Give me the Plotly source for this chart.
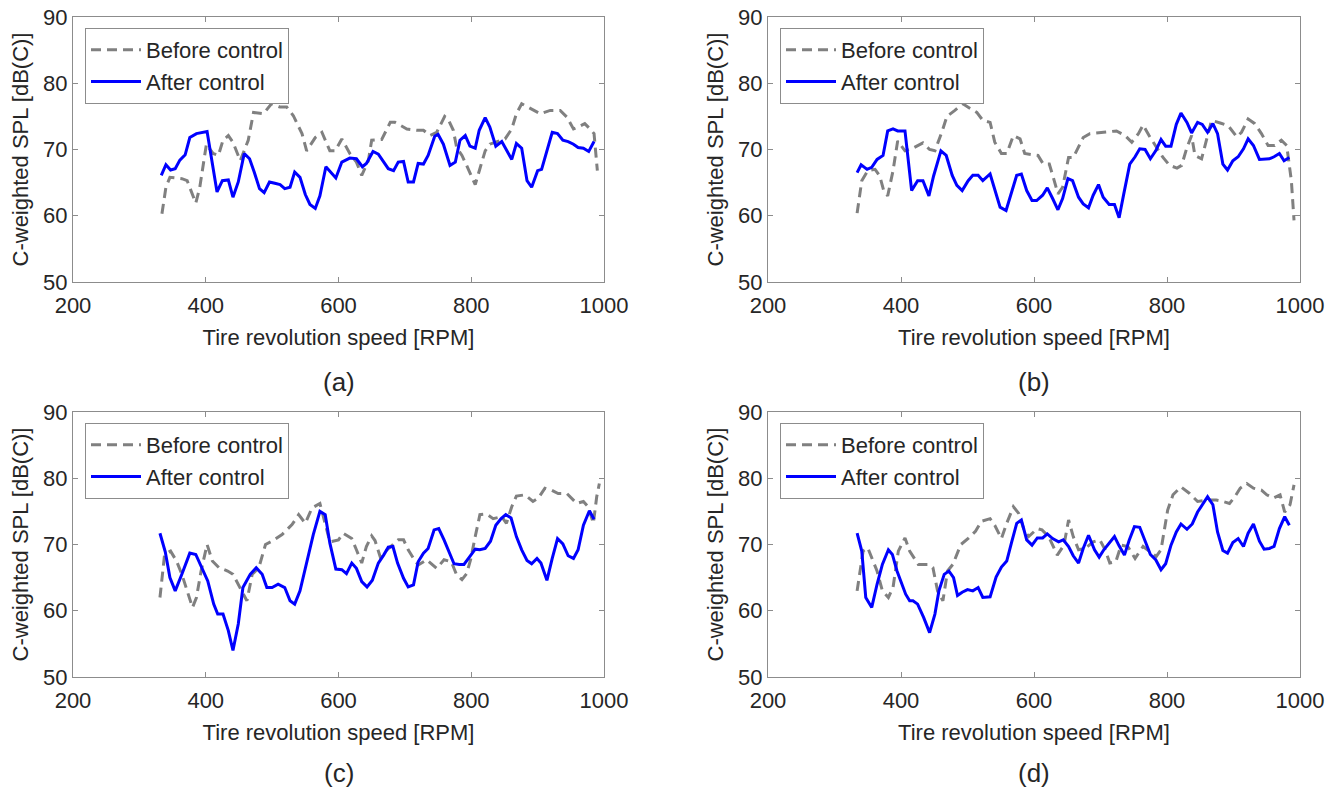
import plotly.graph_objects as go

# panel (a)
rpm_a_before = [334, 340, 346, 355, 364, 372, 379, 385, 391, 401, 411, 419, 426, 434, 441, 452, 464, 472, 487, 499,
                512, 522, 532, 545, 552, 565, 575, 587, 595, 605, 617, 627, 635, 645, 650, 665, 678, 685, 703, 718,
                728, 738, 748, 760, 765, 773, 778, 786, 793, 806, 813, 821, 828, 843, 851, 861, 868, 876, 891, 904,
                919, 934, 944, 954, 961, 971, 979, 985, 990]
spl_a_before = [60.3, 64.3, 65.8, 65.7, 65.6, 65.3, 63.6, 61.9, 64.3, 70.8, 69.4, 69.1, 71.4, 72.1, 71.1, 68.3, 71.4, 75.6, 75.4, 76.9,
                76.4, 76.4, 75.1, 72.4, 69.8, 71.8, 72.6, 69.8, 69.8, 71.6, 69.4, 68.1, 66.1, 68.3, 71.4, 71.5, 74.1, 74.1, 73.1, 72.9,
                72.9, 72.1, 72.6, 75.0, 74.6, 72.9, 70.3, 69.1, 67.6, 64.7, 67.1, 69.8, 70.8, 71.4, 71.6, 73.1, 75.4, 76.9, 76.1, 75.4,
                75.9, 75.9, 74.9, 73.1, 73.4, 73.9, 73.1, 72.4, 66.8]
rpm_a_after = [333, 340, 347, 354, 361, 369, 376, 386, 402, 417, 425, 434, 441, 449, 458, 466, 473, 481, 488, 496,
               504, 512, 519, 527, 534, 542, 550, 557, 565, 572, 581, 596, 605, 617, 627, 636, 642, 652, 660, 675,
               683, 690, 698, 705, 713, 720, 728, 735, 745, 750, 758, 768, 776, 783, 791, 798, 806, 812, 821, 828,
               837, 846, 861, 868, 876, 884, 891, 900, 906, 914, 922, 930, 938, 946, 954, 961, 969, 977, 985]
spl_a_after = [66.1, 67.7, 66.9, 67.1, 68.4, 69.2, 71.8, 72.4, 72.7, 63.6, 65.3, 65.4, 62.8, 65.1, 69.4, 68.6, 66.6, 64.1, 63.5, 65.1,
               64.9, 64.7, 64.1, 64.3, 66.6, 65.8, 63.2, 61.7, 61.1, 63.0, 67.4, 65.7, 68.1, 68.7, 68.6, 67.4, 67.9, 69.7, 69.3, 67.1,
               66.8, 68.1, 68.2, 65.1, 65.1, 67.9, 67.8, 69.1, 72.0, 72.3, 70.8, 67.6, 68.1, 71.4, 72.1, 70.5, 70.2, 72.9, 74.8, 73.4,
               70.5, 71.2, 68.5, 70.9, 70.2, 65.3, 64.3, 66.8, 67.0, 69.8, 72.6, 72.4, 71.4, 71.2, 70.8, 70.3, 70.2, 69.7, 71.2]

# panel (b)
rpm_b_before = [334, 341, 350, 361, 368, 374, 380, 388, 395, 406, 416, 425, 433, 443, 451, 462, 469, 481, 493, 504,
                514, 523, 534, 541, 551, 559, 569, 579, 586, 599, 606, 614, 623, 629, 636, 643, 652, 659, 674, 684,
                707, 724, 737, 747, 757, 764, 773, 782, 794, 804, 815, 822, 830, 837, 842, 852, 860, 867, 880, 892,
                905, 912, 922, 932, 942, 952, 962, 972, 980, 987, 991]
spl_b_before = [60.4, 65.3, 66.8, 67.0, 66.0, 63.8, 63.0, 66.8, 71.3, 69.8, 70.1, 70.6, 71.0, 70.0, 69.8, 72.8, 75.0, 75.9, 76.9, 76.2,
                75.6, 74.4, 74.1, 71.1, 69.4, 69.4, 72.1, 71.6, 69.4, 69.2, 69.1, 67.8, 67.8, 65.8, 63.3, 64.3, 68.8, 68.8, 71.8, 72.4,
                72.6, 72.8, 72.1, 71.1, 72.4, 73.7, 72.1, 70.6, 68.8, 67.6, 67.2, 67.6, 70.3, 72.1, 69.1, 68.6, 71.6, 74.4, 74.0, 73.6,
                71.9, 72.6, 74.6, 73.9, 72.4, 70.6, 70.6, 71.4, 70.6, 65.3, 59.3]
rpm_b_after = [334, 340, 349, 356, 364, 373, 380, 388, 395, 406, 416, 425, 433, 442, 449, 460, 468, 477, 484, 492,
               501, 508, 516, 523, 534, 541, 549, 558, 566, 574, 581, 589, 597, 604, 613, 620, 628, 636, 643, 651,
               658, 667, 674, 682, 689, 697, 704, 713, 721, 728, 735, 744, 752, 759, 767, 775, 783, 791, 798, 806,
               814, 821, 830, 837, 846, 853, 861, 869, 876, 884, 891, 899, 907, 915, 922, 930, 939, 946, 954, 961,
               969, 976, 984]
spl_b_after = [66.5, 67.7, 67.0, 67.3, 68.5, 69.1, 72.8, 73.1, 72.8, 72.8, 63.8, 65.3, 65.3, 63.0, 66.0, 69.8, 69.1, 66.1, 64.6, 63.8,
               65.3, 66.1, 66.1, 65.3, 66.3, 63.8, 61.3, 60.8, 63.6, 66.1, 66.3, 63.8, 62.3, 62.3, 63.1, 64.2, 62.6, 60.9, 62.6, 65.6,
               65.3, 62.8, 61.8, 61.2, 63.1, 64.7, 62.8, 61.7, 61.7, 59.7, 63.3, 67.8, 68.9, 70.1, 70.0, 68.6, 69.8, 71.5, 70.5, 70.5,
               73.8, 75.5, 74.1, 72.5, 74.1, 73.8, 72.6, 73.9, 72.4, 67.8, 66.9, 68.3, 68.9, 70.1, 71.6, 70.6, 68.5, 68.5, 68.6, 68.9,
               69.4, 68.3, 68.8]

# panel (c)
rpm_c_before = [331, 338, 347, 356, 364, 372, 380, 386, 393, 402, 410, 420, 433, 441, 452, 462, 470, 480, 490, 500,
                515, 530, 540, 550, 560, 572, 587, 600, 607, 620, 627, 635, 642, 650, 655, 663, 673, 690, 698, 705,
                713, 720, 733, 748, 759, 770, 778, 786, 793, 799, 806, 813, 823, 833, 846, 853, 861, 868, 881, 893,
                901, 911, 921, 931, 944, 951, 959, 969, 976, 984, 989, 993]
spl_c_before = [62.0, 68.5, 69.0, 67.5, 65.5, 63.0, 60.5, 62.0, 66.0, 70.0, 67.5, 66.5, 66.0, 65.5, 63.5, 61.5, 65.5, 66.5, 70.0, 70.5,
                71.5, 73.0, 74.5, 73.2, 75.5, 76.2, 70.4, 70.7, 71.7, 70.9, 69.2, 67.2, 69.7, 71.3, 70.6, 68.1, 69.2, 70.7, 70.7, 69.2,
                67.9, 66.9, 67.7, 66.4, 67.7, 67.4, 65.4, 64.7, 65.6, 67.7, 71.2, 74.5, 74.6, 73.9, 74.2, 73.2, 75.7, 77.3, 77.5, 76.5,
                77.0, 78.5, 78.2, 77.7, 77.7, 77.0, 76.2, 76.5, 75.7, 73.2, 77.2, 79.2]
rpm_c_after = [331, 339, 346, 354, 364, 376, 385, 396, 403, 412, 418, 426, 434, 441, 449, 456, 467, 476, 485, 492,
               500, 509, 519, 527, 534, 542, 551, 562, 572, 580, 587, 596, 605, 612, 620, 627, 635, 643, 651, 660,
               668, 675, 682, 689, 698, 705, 713, 720, 728, 735, 744, 751, 759, 767, 774, 782, 789, 798, 806, 813,
               821, 829, 837, 845, 852, 860, 868, 876, 884, 891, 899, 905, 914, 922, 930, 938, 946, 954, 961, 969,
               978, 985]
spl_c_after = [71.7, 68.9, 65.0, 63.0, 65.5, 68.7, 68.5, 66.0, 64.5, 61.0, 59.5, 59.5, 57.0, 54.0, 58.0, 63.5, 65.5, 66.5, 65.5, 63.5,
               63.5, 64.0, 63.5, 61.5, 61.0, 63.0, 67.0, 71.5, 75.0, 74.5, 70.2, 66.3, 66.2, 65.6, 67.2, 66.4, 64.4, 63.6, 64.6, 67.2,
               68.4, 69.6, 69.7, 67.2, 64.9, 63.6, 63.9, 67.4, 68.7, 69.4, 72.2, 72.4, 70.7, 68.9, 67.1, 67.0, 67.0, 68.2, 69.3, 69.2,
               69.4, 70.5, 72.9, 73.9, 74.5, 74.0, 71.2, 69.2, 67.6, 67.1, 67.9, 67.2, 64.6, 67.9, 70.9, 70.1, 68.3, 67.9, 69.2, 72.9,
               75.1, 73.8]

# panel (d)
rpm_d_before = [334, 343, 350, 356, 364, 372, 381, 388, 396, 406, 413, 426, 441, 448, 455, 463, 470, 478, 490, 502,
                512, 521, 534, 541, 551, 559, 569, 577, 585, 592, 605, 612, 622, 635, 645, 652, 659, 667, 677, 689,
                699, 707, 714, 723, 731, 741, 752, 764, 774, 784, 791, 796, 801, 809, 821, 834, 846, 859, 874, 884,
                894, 902, 910, 920, 930, 942, 950, 960, 970, 977, 985, 991]
spl_d_before = [63.0, 69.0, 69.5, 68.0, 66.0, 63.0, 62.0, 63.5, 69.0, 71.0, 69.0, 67.0, 67.0, 66.5, 63.0, 61.5, 66.0, 67.0, 70.0, 71.0,
                72.0, 73.5, 73.9, 72.9, 70.9, 73.2, 75.7, 74.7, 72.2, 71.2, 72.4, 72.2, 71.2, 68.4, 69.9, 73.7, 71.2, 69.2, 69.4, 70.4,
                70.7, 69.2, 67.2, 67.4, 69.9, 69.7, 67.9, 69.7, 68.9, 68.2, 69.2, 72.2, 75.2, 77.5, 78.7, 77.7, 76.5, 76.7, 76.7, 76.5,
                76.2, 77.2, 78.5, 79.2, 78.5, 78.2, 77.5, 77.0, 77.5, 74.9, 76.0, 79.0]
rpm_d_after = [334, 341, 347, 356, 364, 372, 381, 387, 394, 400, 407, 413, 418, 425, 434, 443, 451, 457, 465, 472,
               479, 485, 492, 500, 508, 516, 523, 534, 543, 551, 559, 566, 574, 581, 589, 597, 605, 613, 620, 628,
               637, 644, 652, 659, 667, 674, 682, 691, 698, 705, 713, 721, 728, 736, 743, 751, 759, 767, 775, 783,
               791, 798, 806, 814, 821, 830, 838, 846, 854, 861, 869, 876, 884, 891, 899, 907, 915, 922, 930, 939,
               946, 954, 961, 969, 977, 984]
spl_d_after = [71.7, 69.0, 62.0, 60.5, 64.0, 67.0, 69.2, 68.5, 66.0, 64.5, 62.5, 61.5, 61.5, 61.0, 59.0, 56.7, 59.5, 63.0, 65.5, 66.0,
               65.0, 62.3, 62.8, 63.2, 63.0, 63.5, 62.0, 62.1, 65.1, 66.6, 67.5, 70.2, 73.2, 73.7, 70.7, 69.9, 71.0, 71.0, 71.6, 70.9,
               70.4, 70.7, 69.7, 68.3, 67.2, 69.4, 71.4, 69.2, 68.1, 69.2, 70.2, 71.2, 69.8, 68.4, 70.6, 72.7, 72.6, 70.4, 68.5, 67.7,
               66.2, 67.1, 69.9, 71.9, 73.1, 72.3, 73.1, 74.9, 76.2, 77.2, 76.0, 71.9, 69.1, 68.7, 70.3, 70.9, 69.7, 71.7, 73.1, 70.5,
               69.3, 69.4, 69.7, 72.4, 74.2, 72.9]

panel_labels = ["(a)", "(b)", "(c)", "(d)"]
x_ticks = [200, 400, 600, 800, 1000]
y_ticks = [50, 60, 70, 80, 90]

FONT = "Liberation Sans, Arial, sans-serif"
TEXT_COLOR = "#262626"
AXIS_COLOR = "#8c8c8c"
GRAY = "#808080"
BLUE = "#0000ff"

W, H = 1341, 791
# panel boxes in page pixels: left, right, top, bottom
boxes = [(73, 604, 17, 282), (768, 1300, 17, 282), (73, 604, 412, 677), (768, 1300, 412, 677)]


def fx(px):
    return px / W


def fy(py):
    return 1 - py / H


panels = [
    (rpm_a_before, spl_a_before, rpm_a_after, spl_a_after),
    (rpm_b_before, spl_b_before, rpm_b_after, spl_b_after),
    (rpm_c_before, spl_c_before, rpm_c_after, spl_c_after),
    (rpm_d_before, spl_d_before, rpm_d_after, spl_d_after),
]

fig = go.Figure()
layout = dict(
    width=W, height=H,
    margin=dict(l=0, r=0, t=0, b=0, autoexpand=False),
    paper_bgcolor="white", plot_bgcolor="white",
    font=dict(family=FONT, size=22, color=TEXT_COLOR),
    showlegend=True,
)

for i, (rb, sb, ra, sa) in enumerate(panels):
    n = "" if i == 0 else str(i + 1)
    leg = "legend" + n
    fig.add_trace(go.Scatter(x=rb, y=sb, mode="lines", name="Before control",
                             line=dict(color=GRAY, width=3, dash="10px,6px"),
                             xaxis="x" + n, yaxis="y" + n, legend=leg))
    fig.add_trace(go.Scatter(x=ra, y=sa, mode="lines", name="After control",
                             line=dict(color=BLUE, width=3),
                             xaxis="x" + n, yaxis="y" + n, legend=leg))

    left, right, top, bottom = boxes[i]
    axis_common = dict(
        showline=True, linecolor=AXIS_COLOR, linewidth=1, mirror="allticks",
        ticks="inside", ticklen=5, tickcolor=AXIS_COLOR,
        showgrid=False, zeroline=False, automargin=False,
        tickfont=dict(family=FONT, size=22, color=TEXT_COLOR),
    )
    layout["xaxis" + n] = dict(
        axis_common,
        domain=[fx(left), fx(right)], anchor="y" + n,
        range=[200, 1000], tickvals=x_ticks, ticklabelstandoff=4,
        title=dict(text="Tire revolution speed [RPM]", standoff=12,
                   font=dict(family=FONT, size=22, color=TEXT_COLOR)),
    )
    layout["yaxis" + n] = dict(
        axis_common,
        domain=[fy(bottom), fy(top)], anchor="x" + n,
        range=[50, 90], tickvals=y_ticks,
        title=dict(text="C-weighted SPL [dB(C)]", standoff=8,
                   font=dict(family=FONT, size=22, color=TEXT_COLOR)),
    )
    layout[leg] = dict(
        x=fx(left + 12), y=fy(top + 11), xref="paper", yref="paper",
        xanchor="left", yanchor="top",
        bgcolor="white", bordercolor=AXIS_COLOR, borderwidth=1,
        font=dict(family=FONT, size=22, color=TEXT_COLOR),
        tracegroupgap=0, itemwidth=50,
    )

fig.update_layout(**layout)

label_y = [382, 382, 773, 773]
for i, lab in enumerate(panel_labels):
    left, right, top, bottom = boxes[i]
    fig.add_annotation(text=lab, x=fx((left + right) / 2), y=fy(label_y[i]),
                       xref="paper", yref="paper", showarrow=False,
                       xanchor="center", yanchor="middle",
                       font=dict(family=FONT, size=26, color=TEXT_COLOR))

# drop the default 8px page margin so the figure fills the window exactly
fig.write_html("out.html", config={"displayModeBar": False},
               post_script="document.body.style.margin='0';")
